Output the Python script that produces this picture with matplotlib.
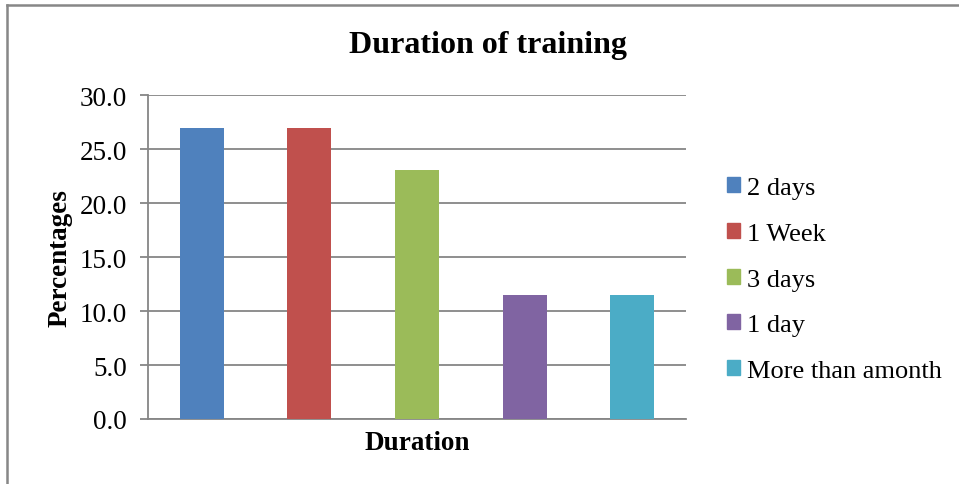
import matplotlib
matplotlib.use("Agg")
import matplotlib.pyplot as plt
from matplotlib.patches import Rectangle

# training duration shares (%)
durations = ["2 days", "1 Week", "3 days", "1 day", "More than amonth"]
percentages = [26.9, 26.9, 23.1, 11.5, 11.5]
colors = ["#4f81bd", "#c0504d", "#9bbb59", "#8064a2", "#4bacc6"]
yticks = [0, 5, 10, 15, 20, 25, 30]

plt.rcParams["font.family"] = ["Liberation Serif", "DejaVu Serif"]

W, H = 959, 485
fig = plt.figure(figsize=(W / 100, H / 100), dpi=100)

# chart area border (top and left edges)
fig.add_artist(plt.Line2D([7 / W, 7 / W], [0, 1 - 6 / H], color="#878787", lw=1.8,
                          transform=fig.transFigure))
fig.add_artist(plt.Line2D([7 / W, 1], [1 - 6 / H, 1 - 6 / H], color="#878787", lw=1.8,
                          transform=fig.transFigure))

ax = fig.add_axes([148 / W, (H - 420) / H, (686 - 148) / W, (420 - 96) / H])

x = list(range(len(durations)))
bars = ax.bar(x, percentages, width=0.41, color=colors, zorder=3)

ax.set_xlim(-0.5, len(durations) - 0.5)
ax.set_ylim(0, 30)
ax.set_yticks(yticks)
ax.set_yticklabels(["%.1f" % v for v in yticks], fontsize=19.5)
ax.set_xticks([])
ax.grid(axis="y", color="#868686", lw=1.3, zorder=0)

for side in ["top", "right"]:
    ax.spines[side].set_visible(False)
for side in ["left", "bottom"]:
    ax.spines[side].set_color("#868686")
    ax.spines[side].set_linewidth(1.3)
ax.tick_params(axis="y", length=6, width=1.3, color="#868686", pad=9)

ax.set_ylabel("Percentages", fontsize=19.5, fontweight="bold", labelpad=5)
ax.set_xlabel("Duration", fontsize=19.5, fontweight="bold", labelpad=8)
fig.text(488 / W, 1 - 46 / H, "Duration of training", fontsize=23, fontweight="bold",
         ha="center", va="center")

handles = [Rectangle((0, 0), 1, 1, color=c) for c in colors]
fig.legend(handles, durations, loc="upper left", bbox_to_anchor=(727 / W, 1 - 178 / H),
           frameon=False, fontsize=19, handlelength=0.5, handleheight=0.5,
           handletextpad=0.25, labelspacing=0.9, borderaxespad=0, borderpad=0)

fig.savefig("out.png", dpi=100)
